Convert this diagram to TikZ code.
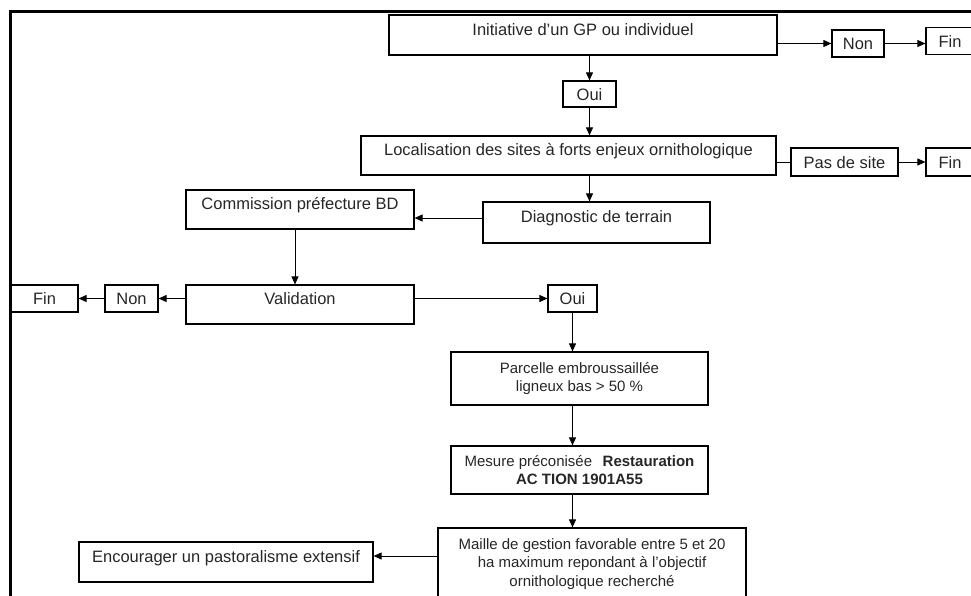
\documentclass[tikz,border=0pt]{standalone}
\usepackage{fontspec}
\setmainfont{Liberation Sans}
\usetikzlibrary{arrows.meta}

\begin{document}
\begin{tikzpicture}[x=1pt, y=-1pt,
	every node/.style={font=\fontsize{16.5}{18.5}\selectfont, text=black!85},
	etape/.style={draw, line width=1.2pt, inner sep=0pt, text height=8pt, text depth=8pt},
	bloc/.style={draw, line width=1.2pt, inner sep=0pt, align=center, font=\fontsize{15}{18.5}\selectfont},
	choix/.style={draw, line width=1.2pt, inner sep=0pt, text height=12pt, text depth=0pt},
	fleche/.style={-{Triangle[length=8pt,width=7pt]}, line width=0.9pt},
	lien/.style={line width=0.9pt}]
\useasboundingbox (0,0) rectangle (971,595);

	%% Rahmen
	\draw[line width=3pt] (10,600) -- (10,11) -- (975,11);

	%% Haut
	\node[etape, minimum width=388pt, minimum height=40pt] (ini) at (583,35) {Initiative d'un GP ou individuel};
	\node[choix, minimum width=52pt, minimum height=27pt] (non1) at (858,43.5) {Non};
	\node[choix, minimum width=48pt, minimum height=27pt] (fin1) at (950,41) {Fin};
	\node[choix, minimum width=53pt, minimum height=26pt] (oui1) at (589.5,94) {Oui};
	\node[etape, minimum width=415pt, minimum height=39pt] (loc) at (568.5,155.5) {Localisation des sites à forts enjeux ornithologique};
	\node[choix, minimum width=107pt, minimum height=28pt] (pds) at (844.5,162) {Pas de site};
	\node[choix, minimum width=48pt, minimum height=28pt] (fin2) at (950,162) {Fin};
	\node[etape, minimum width=227pt, minimum height=41pt] (diag) at (596.5,222.5) {Diagnostic de terrain};

	%% Commission
	\node[etape, minimum width=228pt, minimum height=39pt] (com) at (300,209.5) {Commission préfecture BD};
	\node[etape, minimum width=228pt, minimum height=39pt] (val) at (300,304.5) {Validation};
	\node[choix, minimum width=53pt, minimum height=27pt] (non2) at (131.5,298.5) {Non};
	\node[choix, minimum width=67pt, minimum height=27pt] (fin3) at (44.5,298.5) {Fin};
	\node[choix, minimum width=49pt, minimum height=27pt] (oui2) at (572.5,298.5) {Oui};

	%% Mesures
	\node[bloc, minimum width=257pt, minimum height=53pt] (parc) at (579.5,378.5) {Parcelle embroussaillée\\ ligneux bas > 50 \%};
	\node[bloc, minimum width=257pt, minimum height=48pt] (mes) at (579.5,470) {Mesure préconisée\hspace{0.7em}\textbf{Restauration}\\ \textbf{AC TION 1901A55}};
	\node[bloc, minimum width=308pt, minimum height=72pt] (mai) at (592,564) {Maille de gestion favorable entre 5 et 20\\ ha maximum repondant à l'objectif\\ ornithologique recherché};
	\node[etape, minimum width=294pt, minimum height=40pt] (enc) at (226,562) {Encourager un pastoralisme extensif};

	%%%%%%%%%%%%%%%%

	%% Pfeile
	\draw[fleche] (non1.west -| ini.east) -- (non1.west);
	\draw[fleche] (non1.east) -- (non1.east -| fin1.west);
	\draw[fleche] (oui1.north |- ini.south) -- (oui1.north);
	\draw[fleche] (oui1.south) -- (oui1.south |- loc.north);
	\draw[lien] (pds.west -| loc.east) -- (pds.west);
	\draw[fleche] (pds.east) -- (pds.east -| fin2.west);
	\draw[fleche] (oui1.south |- loc.south) -- (oui1.south |- diag.north);
	\coordinate (c1) at ([yshift=-8.5pt]com.east);
	\draw[fleche] (c1 -| diag.west) -- (c1);
	\draw[fleche] ([xshift=-5pt]com.south) -- ([xshift=-5pt]val.north);
	\draw[fleche] (non2.east -| val.west) -- (non2.east);
	\draw[fleche] (non2.west) -- (non2.west -| fin3.east);
	\draw[fleche] (oui2.west -| val.east) -- (oui2.west);
	\draw[fleche] (oui2.south) -- (oui2.south |- parc.north);
	\draw[fleche] (oui2.south |- parc.south) -- (oui2.south |- mes.north);
	\draw[fleche] (oui2.south |- mes.south) -- (oui2.south |- mai.north);
	\coordinate (c2) at ([yshift=8pt]mai.west);
	\draw[fleche] (c2) -- (c2 -| enc.east);

%\draw (current bounding box.south west) rectangle (current bounding box.north east);
\end{tikzpicture}
\end{document}
